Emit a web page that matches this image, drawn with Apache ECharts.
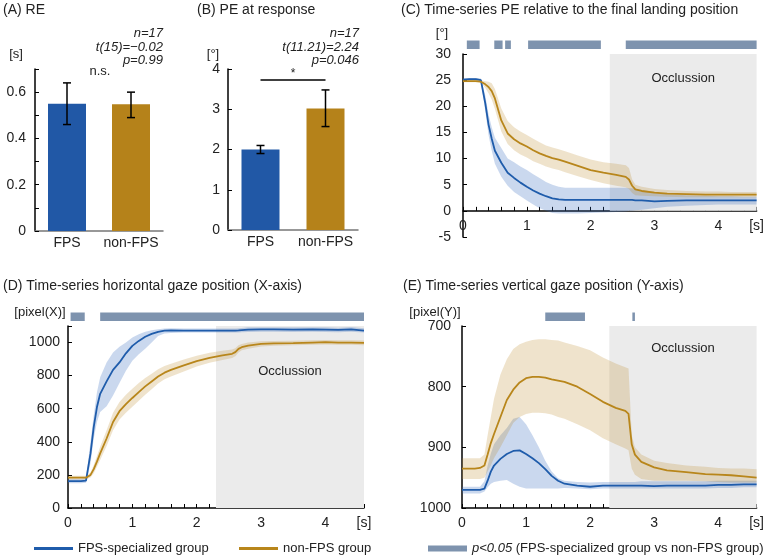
<!DOCTYPE html>
<html>
<head>
<meta charset="utf-8">
<script src="https://cdn.jsdelivr.net/npm/echarts@6/dist/echarts.min.js"></script>
<style>
  html, body { margin: 0; padding: 0; background: #fff; }
  #chart { width: 767px; height: 556px; }
</style>
</head>
<body>
<div id="chart"></div>
<script>
// (A) RE and (B) PE at response
var groups = ['FPS', 'non-FPS'];
var reMean = [0.55, 0.548];
var reLow = [0.46, 0.49];
var reHigh = [0.64, 0.60];
var peMean = [2.0, 3.02];
var peLow = [1.9, 2.57];
var peHigh = [2.1, 3.48];

// time axis of the three time-series panels [s]
var time = [0, 0.1, 0.2, 0.28, 0.35, 0.4, 0.45, 0.5, 0.6, 0.7, 0.8, 0.9,
            1.0, 1.1, 1.2, 1.3, 1.4, 1.5, 1.6, 1.8, 2.0, 2.2, 2.4, 2.55,
            2.6, 2.65, 2.7, 2.8, 3.0, 3.2, 3.5, 3.8, 4.0, 4.2, 4.4, 4.6];

// (C) PE [deg]
var cFps   = [25.1, 25.2, 25.2, 25.0, 20.5, 16.5, 13.8, 11.5, 9.2, 7.3, 6.3, 5.4, 4.6, 3.9, 3.3, 2.8, 2.4, 2.2, 2.1, 2.1, 2.1, 2.1, 2.1, 2.1, 2.1, 2.1, 2.0, 2.0, 1.8, 1.9, 2.0, 2.0, 2.0, 2.0, 2.0, 2.0];
var cFpsLo = [24.9, 24.9, 24.9, 24.7, 19.0, 14.5, 11.5, 9.0, 6.5, 4.8, 3.6, 2.8, 2.0, 1.2, 0.5, 0.0, -0.4, -0.5, -0.5, -0.5, -0.4, -0.3, -0.2, -0.1, 0.0, 0.0, 0.1, 0.2, 0.5, 0.8, 1.0, 1.1, 1.2, 1.2, 1.2, 1.2];
var cFpsHi = [25.3, 25.4, 25.4, 25.3, 22.0, 18.5, 16.0, 14.0, 12.0, 10.0, 9.3, 8.5, 7.8, 7.0, 6.3, 5.5, 5.0, 4.6, 4.4, 4.4, 4.4, 4.4, 4.4, 4.4, 4.3, 4.3, 4.2, 4.0, 3.6, 3.2, 3.0, 2.9, 2.8, 2.8, 2.7, 2.7];
var cNon   = [24.8, 24.8, 24.8, 24.7, 24.2, 23.7, 22.9, 21.5, 17.3, 14.8, 13.7, 12.9, 12.3, 11.6, 11.0, 10.5, 10.1, 9.8, 9.4, 8.6, 7.8, 7.3, 6.9, 6.5, 6.0, 4.8, 4.1, 3.8, 3.5, 3.3, 3.2, 3.1, 3.1, 3.1, 3.1, 3.1];
var cNonLo = [24.6, 24.6, 24.6, 24.5, 23.5, 22.5, 21.3, 19.5, 15.2, 12.8, 11.6, 10.8, 10.2, 9.5, 9.0, 8.5, 8.1, 7.8, 7.4, 6.6, 5.9, 5.3, 4.8, 4.5, 4.2, 3.4, 3.0, 2.9, 2.8, 2.7, 2.6, 2.6, 2.6, 2.6, 2.6, 2.6];
var cNonHi = [25.0, 25.0, 25.0, 25.0, 24.8, 24.7, 24.4, 23.3, 19.6, 17.2, 16.0, 15.2, 14.5, 13.8, 13.1, 12.5, 12.1, 11.8, 11.4, 10.6, 9.8, 9.3, 9.0, 8.7, 8.2, 6.0, 5.0, 4.6, 4.2, 4.0, 3.8, 3.7, 3.7, 3.6, 3.6, 3.6];

// (D) horizontal gaze [pixel]
var dFps   = [163, 163, 163, 166, 330, 490, 610, 690, 765, 835, 880, 935, 980, 1010, 1035, 1052, 1065, 1072, 1073, 1072, 1072, 1072, 1072, 1072, 1072, 1073, 1075, 1078, 1079, 1079, 1078, 1079, 1078, 1076, 1080, 1072];
var dFpsLo = [150, 150, 150, 152, 270, 420, 520, 580, 615, 680, 755, 830, 890, 930, 962, 1000, 1040, 1055, 1058, 1060, 1060, 1060, 1060, 1060, 1060, 1061, 1062, 1064, 1065, 1065, 1064, 1065, 1064, 1062, 1066, 1060];
var dFpsHi = [176, 176, 176, 180, 400, 560, 700, 790, 880, 940, 975, 1000, 1030, 1050, 1065, 1075, 1080, 1085, 1086, 1085, 1085, 1085, 1085, 1085, 1085, 1086, 1088, 1092, 1093, 1093, 1092, 1093, 1092, 1090, 1094, 1086];
var dNon   = [183, 183, 183, 183, 200, 235, 280, 330, 420, 520, 585, 628, 665, 700, 735, 765, 795, 818, 835, 862, 888, 908, 922, 932, 942, 962, 972, 982, 992, 995, 997, 1000, 1002, 1000, 1000, 998];
var dNonLo = [172, 172, 172, 172, 185, 210, 250, 290, 375, 470, 535, 575, 612, 648, 685, 718, 752, 778, 795, 825, 855, 878, 895, 906, 917, 940, 953, 963, 976, 980, 983, 986, 988, 986, 986, 984];
var dNonHi = [195, 195, 195, 195, 215, 260, 315, 370, 470, 575, 640, 685, 720, 755, 785, 812, 838, 858, 872, 898, 920, 938, 950, 958, 966, 984, 991, 1000, 1008, 1010, 1011, 1014, 1016, 1014, 1014, 1012];

// (E) vertical gaze [pixel]
var eFps   = [970, 970, 970, 970, 968, 955, 940, 930, 919, 911, 906, 905, 911, 918, 926, 936, 947, 955, 960, 963, 965, 963, 963, 963, 963, 963, 963, 963, 964, 963, 963, 963, 962, 962, 961, 961];
var eFpsLo = [965, 965, 965, 965, 956, 930, 910, 895, 880, 868, 853, 850, 862, 880, 900, 922, 940, 951, 955, 957, 958, 957, 957, 957, 957, 957, 957, 956, 956, 956, 956, 956, 955, 955, 955, 955];
var eFpsHi = [976, 976, 976, 976, 973, 966, 960, 957, 955, 954, 960, 965, 968, 968, 968, 968, 968, 968, 967, 968, 969, 968, 968, 968, 968, 968, 968, 968, 968, 968, 968, 968, 967, 967, 966, 966];
var eNon   = [935, 935, 935, 934, 930, 912, 893, 878, 850, 822, 805, 793, 786, 784, 784, 785, 788, 790, 792, 800, 812, 825, 835, 840, 845, 895, 912, 924, 933, 938, 941, 944, 945, 946, 948, 950];
var eNonLo = [918, 918, 918, 918, 912, 880, 850, 820, 780, 755, 738, 730, 726, 723, 722, 722, 723, 724, 727, 733, 740, 752, 762, 768, 770, 880, 900, 912, 922, 926, 930, 932, 934, 935, 935, 936];
var eNonHi = [952, 952, 952, 952, 950, 940, 930, 918, 900, 880, 860, 850, 845, 843, 843, 844, 846, 850, 853, 862, 872, 885, 895, 902, 905, 935, 945, 952, 955, 955, 955, 956, 957, 958, 958, 958];

// p<0.05 intervals [s]
var sigC = [[0.06, 0.26], [0.49, 0.62], [0.66, 0.75], [1.02, 2.16], [2.55, 4.6]];
var sigD = [[0.04, 0.26], [0.5, 4.6]];
var sigE = [[1.3, 1.92], [2.66, 2.7]];

var occlusionStart = 2.3;
var timeMax = 4.6;

var BLUE = '#1f5cab', GOLD = '#b8861b';
var BAR_BLUE = '#2158a6', BAR_GOLD = '#b5821a';
var BAND_BLUE = 'rgba(50,105,190,0.26)', BAND_GOLD = 'rgba(190,140,40,0.24)';
var SIG = '#7e93ae', OCC = '#ebebeb', INK = '#222';
var FONT = 'Liberation Sans, Arial, sans-serif';

var chart = echarts.init(document.getElementById('chart'));

function barAxisY(idx, max, interval, fmt, margin) {
    return {
        type: 'value', gridIndex: idx, min: 0, max: max, interval: interval,
        splitLine: {show: false},
        axisLine: {show: true, lineStyle: {color: '#000', width: 1.5}},
        axisTick: {show: true, inside: true, length: 4, lineStyle: {color: '#000'}},
        axisLabel: {color: INK, fontSize: 14, margin: margin, formatter: fmt}
    };
}

function timeAxisX(idx, offset) {
    return {
        type: 'value', gridIndex: idx, min: 0, max: timeMax, interval: 0.2,
        position: 'bottom', offset: offset,
        splitLine: {show: false},
        axisLine: {show: true, onZero: false, lineStyle: {color: '#000', width: 1.5}},
        axisTick: {show: true, inside: true, length: 4, lineStyle: {color: '#000'}},
        axisLabel: {
            color: INK, fontSize: 14, margin: 8,
            formatter: function (v) {
                if (Math.abs(v - timeMax) < 1e-6) return '[s]';
                if (Math.abs(v - Math.round(v)) < 1e-6) return String(Math.round(v));
                return '';
            }
        }
    };
}

function lineSeries(name, idx, values, color) {
    return {
        name: name, type: 'line', xAxisIndex: idx, yAxisIndex: idx, z: 4,
        showSymbol: false, symbol: 'none', silent: true,
        data: time.map(function (t, i) { return [t, values[i]]; }),
        itemStyle: {color: color},
        lineStyle: {color: color, width: 1.8}
    };
}

function bandSeries(idx, lo, hi, color) {
    return {
        type: 'custom', xAxisIndex: idx, yAxisIndex: idx, z: 3, silent: true,
        data: time.map(function (t, i) { return [t, lo[i], hi[i]]; }),
        encode: {x: 0, y: [1, 2]},
        renderItem: function (params, api) {
            if (params.dataIndex !== 0) return null;
            var pts = [];
            for (var i = 0; i < time.length; i++) pts.push(api.coord([time[i], hi[i]]));
            for (var j = time.length - 1; j >= 0; j--) pts.push(api.coord([time[j], lo[j]]));
            return {type: 'polygon', shape: {points: pts}, style: {fill: color}};
        }
    };
}

function sigSeries(idx, spans, topValue) {
    return {
        name: 'p<0.05', type: 'custom', xAxisIndex: idx, yAxisIndex: idx, z: 4,
        clip: false, silent: true,
        itemStyle: {color: SIG},
        data: spans,
        renderItem: function (params, api) {
            var a = api.coord([api.value(0), topValue]);
            var b = api.coord([api.value(1), topValue]);
            return {type: 'rect', shape: {x: a[0], y: a[1] - 13.5, width: Math.max(b[0] - a[0], 2), height: 8.5},
                    style: {fill: SIG}};
        }
    };
}

function occlusionSeries(idx, yFrom, yTo, dist) {
    return {
        type: 'line', xAxisIndex: idx, yAxisIndex: idx, z: 1, data: [], silent: true,
        markArea: {
            silent: true,
            itemStyle: {color: OCC},
            label: {show: true, position: 'insideTop', distance: dist, color: INK, fontSize: 13, fontFamily: FONT},
            data: [[{name: 'Occlussion', xAxis: occlusionStart, yAxis: yFrom}, {xAxis: timeMax, yAxis: yTo}]]
        }
    };
}

function errorSeries(idx, lo, hi) {
    return {
        type: 'custom', xAxisIndex: idx, yAxisIndex: idx, z: 5, silent: true,
        data: lo.map(function (l, i) { return [i, l, hi[i]]; }),
        renderItem: function (params, api) {
            var x = api.value(0);
            var a = api.coord([x, api.value(1)]);
            var b = api.coord([x, api.value(2)]);
            var st = {stroke: '#000', lineWidth: 1.5};
            return {type: 'group', children: [
                {type: 'line', shape: {x1: a[0], y1: a[1], x2: b[0], y2: b[1]}, style: st},
                {type: 'line', shape: {x1: a[0] - 4, y1: a[1], x2: a[0] + 4, y2: a[1]}, style: st},
                {type: 'line', shape: {x1: b[0] - 4, y1: b[1], x2: b[0] + 4, y2: b[1]}, style: st}
            ]};
        }
    };
}

function barData(values) {
    return values.map(function (v, i) {
        return {value: v, itemStyle: {color: i === 0 ? BAR_BLUE : BAR_GOLD}};
    });
}

function txt(x, y, s, align, extra) {
    var style = {text: s, x: x, y: y, fill: INK, font: '13px ' + FONT,
                 textAlign: align || 'center', textVerticalAlign: 'middle'};
    if (extra) for (var k in extra) style[k] = extra[k];
    return {type: 'text', silent: true, style: style};
}

function catAxisX(idx) {
    return {type: 'category', gridIndex: idx, data: groups, axisTick: {show: false},
            axisLine: {lineStyle: {color: '#777', width: 1.5}},
            axisLabel: {color: INK, fontSize: 14, margin: 5, interval: 0, hideOverlap: false}};
}

var titleStyle = {fontSize: 14, fontWeight: 'normal', color: INK, fontFamily: FONT};
var LINE_ICON = 'path://M0,0H40V3H0Z';
var legendBase = {top: 537, itemWidth: 39, itemHeight: 6, itemGap: 0, selectedMode: false,
                  textStyle: {color: INK, fontSize: 13, fontFamily: FONT, padding: [0, 0, 0, 0]}};

var option = {
    animation: false,
    textStyle: {fontFamily: FONT},
    title: [
        {text: '(A) RE', left: 3, top: 3, padding: 0, textStyle: titleStyle},
        {text: '(B) PE at response', left: 197, top: 3, padding: 0, textStyle: titleStyle},
        {text: '(C) Time-series PE relative to the final landing position', left: 401, top: 3, padding: 0, textStyle: titleStyle},
        {text: '(D) Time-series horizontal gaze position (X-axis)', left: 3, top: 279, padding: 0, textStyle: titleStyle},
        {text: '(E) Time-series vertical gaze position (Y-axis)', left: 403, top: 279, padding: 0, textStyle: titleStyle}
    ],
    legend: [
        echarts.util.merge({left: 29, data: [{name: 'FPS-specialized group', icon: LINE_ICON}]}, legendBase),
        echarts.util.merge({left: 234, data: [{name: 'non-FPS group', icon: LINE_ICON}]}, legendBase),
        echarts.util.merge({
            left: 423, data: [{name: 'p<0.05', icon: 'rect'}],
            formatter: function () { return '{i|p<0.05} (FPS-specialized group vs non-FPS group)'; },
            textStyle: {rich: {i: {fontStyle: 'italic', fontSize: 13, fontFamily: FONT, color: INK}}}
        }, legendBase)
    ],
    grid: [
        {left: 35, top: 69, width: 128, height: 162},
        {left: 228, top: 69, width: 130, height: 161},
        {left: 463, top: 54, width: 295, height: 183},
        {left: 68, top: 326, width: 296, height: 182},
        {left: 462, top: 326, width: 296, height: 182}
    ],
    xAxis: [
        catAxisX(0),
        catAxisX(1),
        timeAxisX(2, -183 * 5 / 35),
        timeAxisX(3, 0),
        timeAxisX(4, 0)
    ],
    yAxis: [
        barAxisY(0, 0.7, 0.1, function (v) { return Math.round(v * 10) % 2 === 0 ? String(+v.toFixed(1)) : ''; }, 9),
        barAxisY(1, 4, 1, null, 8),
        {type: 'value', gridIndex: 2, min: -5, max: 30, interval: 5, splitLine: {show: false},
         axisLine: {show: true, lineStyle: {color: '#000', width: 1.5}},
         axisTick: {show: true, inside: true, length: 4, lineStyle: {color: '#000'}},
         axisLabel: {color: INK, fontSize: 14, margin: 12}},
        {type: 'value', gridIndex: 3, min: 0, max: 1100, interval: 200, splitLine: {show: false},
         axisLine: {show: true, lineStyle: {color: '#000', width: 1.5}},
         axisTick: {show: true, inside: true, length: 4, lineStyle: {color: '#000'}},
         axisLabel: {color: INK, fontSize: 14, margin: 8,
                     formatter: function (v) { return v > 1000 ? '' : String(v); }}},
        {type: 'value', gridIndex: 4, min: 700, max: 1000, interval: 100, inverse: true, splitLine: {show: false},
         axisLine: {show: true, lineStyle: {color: '#000', width: 1.5}},
         axisTick: {show: true, inside: true, length: 4, lineStyle: {color: '#000'}},
         axisLabel: {color: INK, fontSize: 14, margin: 11,
                     formatter: function (v) { return String(v); }}}
    ],
    series: [
        {name: 'RE', type: 'bar', xAxisIndex: 0, yAxisIndex: 0, barWidth: 38, data: barData(reMean), silent: true},
        errorSeries(0, reLow, reHigh),
        {name: 'PE', type: 'bar', xAxisIndex: 1, yAxisIndex: 1, barWidth: 38, data: barData(peMean), silent: true,
         markLine: {silent: true, symbol: 'none', lineStyle: {color: '#000', width: 1.5, type: 'solid'},
                    label: {show: true, position: 'middle', formatter: '*', color: INK, fontSize: 12, distance: 0},
                    data: [[{coord: ['FPS', 3.73]}, {coord: ['non-FPS', 3.73]}]]}},
        errorSeries(1, peLow, peHigh),

        occlusionSeries(2, 0, 30, 18),
        bandSeries(2, cFpsLo, cFpsHi, BAND_BLUE),
        bandSeries(2, cNonLo, cNonHi, BAND_GOLD),
        lineSeries('FPS-specialized group', 2, cFps, BLUE),
        lineSeries('non-FPS group', 2, cNon, GOLD),
        sigSeries(2, sigC, 30),

        occlusionSeries(3, 0, 1100, 39),
        bandSeries(3, dFpsLo, dFpsHi, BAND_BLUE),
        bandSeries(3, dNonLo, dNonHi, BAND_GOLD),
        lineSeries('FPS-specialized group', 3, dFps, BLUE),
        lineSeries('non-FPS group', 3, dNon, GOLD),
        sigSeries(3, sigD, 1100),

        occlusionSeries(4, 700, 1000, 16),
        bandSeries(4, eFpsLo, eFpsHi, BAND_BLUE),
        bandSeries(4, eNonLo, eNonHi, BAND_GOLD),
        lineSeries('FPS-specialized group', 4, eFps, BLUE),
        lineSeries('non-FPS group', 4, eNon, GOLD),
        sigSeries(4, sigE, 700)
    ],
    graphic: [
        txt(163, 33, 'n=17', 'right', {font: 'italic 13px ' + FONT}),
        txt(163, 47, 't(15)=\u22120.02', 'right', {font: 'italic 13px ' + FONT}),
        txt(163, 60, 'p=0.99', 'right', {font: 'italic 13px ' + FONT}),
        txt(100, 71, 'n.s.'),
        txt(359, 33, 'n=17', 'right', {font: 'italic 13px ' + FONT}),
        txt(359, 47, 't(11.21)=2.24', 'right', {font: 'italic 13px ' + FONT}),
        txt(359, 60, 'p=0.046', 'right', {font: 'italic 13px ' + FONT}),
        txt(16, 54, '[s]'),
        txt(213, 54, '[\u00b0]'),
        txt(442, 33, '[\u00b0]'),
        txt(40, 312, '[pixel(X)]'),
        txt(435, 312, '[pixel(Y)]')
    ]
};

chart.setOption(option);
</script>
</body>
</html>
